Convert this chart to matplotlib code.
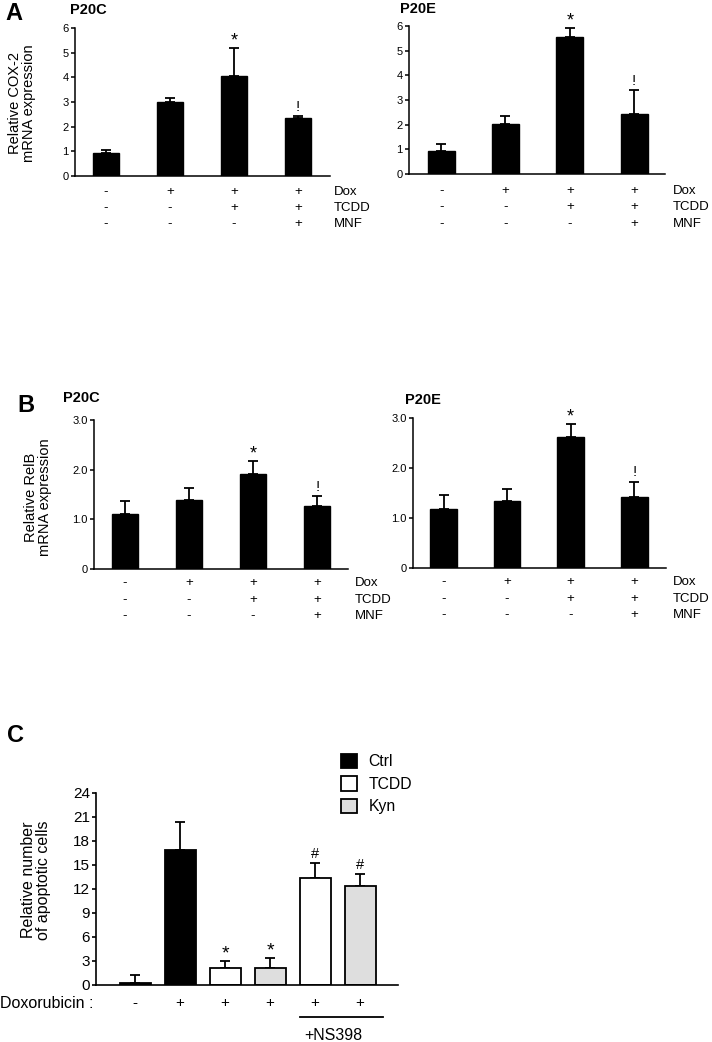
import matplotlib
matplotlib.use("Agg")
import matplotlib.pyplot as plt
from matplotlib.patches import Patch

plt.rcParams['font.family'] = ['Liberation Sans', 'DejaVu Sans']

# ---------------- data ----------------
conditions_idx = [0, 1, 2, 3]
row_names = ["Dox", "TCDD", "MNF"]
row_marks = [["-", "+", "+", "+"],
             ["-", "-", "+", "+"],
             ["-", "-", "-", "+"]]

a_left_vals = [0.95, 3.02, 4.07, 2.37]
a_left_err = [0.11, 0.14, 1.12, 0.07]
a_left_sig = ["", "", "*", "!"]

a_right_vals = [0.94, 2.02, 5.55, 2.43]
a_right_err = [0.27, 0.32, 0.38, 0.97]
a_right_sig = ["", "", "*", "!"]

b_left_vals = [1.11, 1.38, 1.92, 1.27]
b_left_err = [0.25, 0.25, 0.26, 0.19]
b_left_sig = ["", "", "*", "!"]

b_right_vals = [1.19, 1.35, 2.62, 1.43]
b_right_err = [0.27, 0.23, 0.25, 0.30]
b_right_sig = ["", "", "*", "!"]

a_ticks = [0, 1, 2, 3, 4, 5, 6]
b_ticks = [0, 1.0, 2.0, 3.0]
b_ticklabels = ["0", "1.0", "2.0", "3.0"]

c_groups = ["Ctrl", "Ctrl", "TCDD", "Kyn", "TCDD", "Kyn"]
c_vals = [0.3, 16.9, 2.1, 2.1, 13.4, 12.4]
c_err = [0.95, 3.5, 0.95, 1.3, 1.9, 1.5]
c_sig = ["", "", "*", "*", "#", "#"]
c_dox = ["-", "+", "+", "+", "+", "+"]
c_ticks = [0, 3, 6, 9, 12, 15, 18, 21, 24]
group_colors = {"Ctrl": "black", "TCDD": "white", "Kyn": "#dedede"}

W, H = 712, 1042
fig = plt.figure(figsize=(W / 100, H / 100), dpi=100)


def add_axes_px(x0, x1, ytop, ybot):
    return fig.add_axes([x0 / W, 1 - ybot / H, (x1 - x0) / W, (ybot - ytop) / H])


def style_ax(ax, lw=1.1, ticksize=8):
    for s in ["top", "right"]:
        ax.spines[s].set_visible(False)
    for s in ["left", "bottom"]:
        ax.spines[s].set_linewidth(lw)
    ax.tick_params(axis='y', direction='out', length=3, width=lw, labelsize=ticksize, pad=1.5)
    ax.tick_params(axis='x', bottom=False, labelbottom=False)


def bar_panel(ax, vals, err, sig, width, ylim, yticks, yticklabels=None):
    ax.bar(conditions_idx, vals, width=width, color="black", edgecolor="black", zorder=2)
    ax.errorbar(conditions_idx, vals, yerr=[[0] * len(vals), err], fmt="none",
                ecolor="black", elinewidth=1.3, capsize=3.5, capthick=1.3, zorder=1)
    for i, s in enumerate(sig):
        if s == "*":
            ax.annotate(s, (conditions_idx[i], vals[i] + err[i]), xytext=(0, -1),
                        textcoords="offset points", ha="center", va="bottom", fontsize=13)
        elif s:
            ax.annotate(s, (conditions_idx[i], vals[i] + err[i]), xytext=(0, 1.5),
                        textcoords="offset points", ha="center", va="bottom", fontsize=10.5)
    ax.set_ylim(*ylim)
    ax.set_yticks(yticks)
    if yticklabels is not None:
        ax.set_yticklabels(yticklabels)


def rows(ax, offsets_px, label_x_px, axes_h_px):
    for r, (name, marks) in enumerate(zip(row_names, row_marks)):
        yy = -offsets_px[r] / axes_h_px
        for i, m in enumerate(marks):
            ax.text(conditions_idx[i], yy, m, transform=ax.get_xaxis_transform(),
                    ha="center", va="center", fontsize=9.5, clip_on=False)
        bb = ax.get_position()
        fy = bb.y0 + yy * bb.height
        fig.text(label_x_px / W, fy, name, ha="left", va="center", fontsize=9.5)


# ---------------- Panel A ----------------
axA1 = add_axes_px(75, 330, 28, 176)
style_ax(axA1)
bar_panel(axA1, a_left_vals, a_left_err, a_left_sig, 0.42, (0, 6), a_ticks)
axA1.set_xlim(-0.484, 3.5)
rows(axA1, [16, 32, 48], 334, 148)

axA2 = add_axes_px(409, 665, 26, 174)
style_ax(axA2)
bar_panel(axA2, a_right_vals, a_right_err, a_right_sig, 0.42, (0, 6), a_ticks)
axA2.set_xlim(-0.5, 3.48)
rows(axA2, [17, 33, 50], 673, 148)

fig.text(5 / W, 1 - 14 / H, "A", fontsize=17, fontweight="bold", ha="left", va="center")
fig.text(70 / W, 1 - 10 / H, "P20C", fontsize=10.5, fontweight="bold", ha="left", va="center")
fig.text(400 / W, 1 - 9 / H, "P20E", fontsize=10.5, fontweight="bold", ha="left", va="center")
fig.text(22 / W, 1 - 103 / H, "Relative COX-2\nmRNA expression", rotation=90,
         ha="center", va="center", fontsize=10.5, linespacing=1.05)

# ---------------- Panel B ----------------
axB1 = add_axes_px(94, 348, 420, 569)
style_ax(axB1)
bar_panel(axB1, b_left_vals, b_left_err, b_left_sig, 0.40, (0, 3.0), b_ticks, b_ticklabels)
axB1.set_xlim(-0.48, 3.48)
rows(axB1, [14, 31, 47], 355, 149)

axB2 = add_axes_px(413, 666, 418, 568)
style_ax(axB2)
bar_panel(axB2, b_right_vals, b_right_err, b_right_sig, 0.42, (0, 3.0), b_ticks, b_ticklabels)
axB2.set_xlim(-0.48, 3.5)
rows(axB2, [14, 31, 47], 673, 150)

fig.text(17 / W, 1 - 405 / H, "B", fontsize=17, fontweight="bold", ha="left", va="center")
fig.text(63 / W, 1 - 398 / H, "P20C", fontsize=10.5, fontweight="bold", ha="left", va="center")
fig.text(405 / W, 1 - 400 / H, "P20E", fontsize=10.5, fontweight="bold", ha="left", va="center")
fig.text(38 / W, 1 - 497 / H, "Relative RelB\nmRNA expression", rotation=90,
         ha="center", va="center", fontsize=10.5, linespacing=1.05)

# ---------------- Panel C ----------------
axC = add_axes_px(96, 398, 793, 985)
style_ax(axC, lw=1.2, ticksize=11)
c_idx = list(range(len(c_vals)))
axC.bar(c_idx, c_vals, width=0.69, color=[group_colors[g] for g in c_groups],
        edgecolor="black", linewidth=1.3, zorder=2)
axC.errorbar(c_idx, c_vals, yerr=[[0] * len(c_vals), c_err], fmt="none",
             ecolor="black", elinewidth=1.3, capsize=3.5, capthick=1.3, zorder=1)
for i, s in enumerate(c_sig):
    if s == "*":
        axC.annotate(s, (c_idx[i], c_vals[i] + c_err[i]), xytext=(0, -1),
                     textcoords="offset points", ha="center", va="bottom", fontsize=14)
    elif s:
        axC.annotate(s, (c_idx[i], c_vals[i] + c_err[i]), xytext=(0, 1.5),
                     textcoords="offset points", ha="center", va="bottom", fontsize=10.5)
axC.set_ylim(0, 24)
axC.set_yticks(c_ticks)
axC.set_xlim(-0.867, 5.84)
ch = 192
for i, m in enumerate(c_dox):
    axC.text(c_idx[i], -18 / ch, m, transform=axC.get_xaxis_transform(),
             ha="center", va="center", fontsize=11, clip_on=False)
fig.text(0 / W, 1 - 1004 / H, "Doxorubicin :", ha="left", va="center", fontsize=11.5)
axC.plot([c_idx[4] - 0.33, c_idx[5] + 0.5], [-32 / ch, -32 / ch], color="black", lw=1.3,
         transform=axC.get_xaxis_transform(), clip_on=False)
axC.text((c_idx[4] + c_idx[5]) / 2 - 0.1, -50 / ch, "+NS398", transform=axC.get_xaxis_transform(),
         ha="center", va="center", fontsize=11.5, clip_on=False)

fig.text(7 / W, 1 - 735 / H, "C", fontsize=17, fontweight="bold", ha="left", va="center")
fig.text(36 / W, 1 - 880 / H, "Relative number\nof apoptotic cells", rotation=90,
         ha="center", va="center", fontsize=11.5, linespacing=1.05)

handles = [Patch(facecolor=group_colors[g], edgecolor="black", linewidth=1.3, label=g)
           for g in ["Ctrl", "TCDD", "Kyn"]]
fig.legend(handles=handles, loc="upper left", bbox_to_anchor=(341 / W, 1 - 754 / H),
           frameon=False, fontsize=11.3, handlelength=1.0, handleheight=1.0,
           handletextpad=0.75, labelspacing=0.45, borderpad=0, borderaxespad=0)

fig.savefig("out.png", dpi=100)
